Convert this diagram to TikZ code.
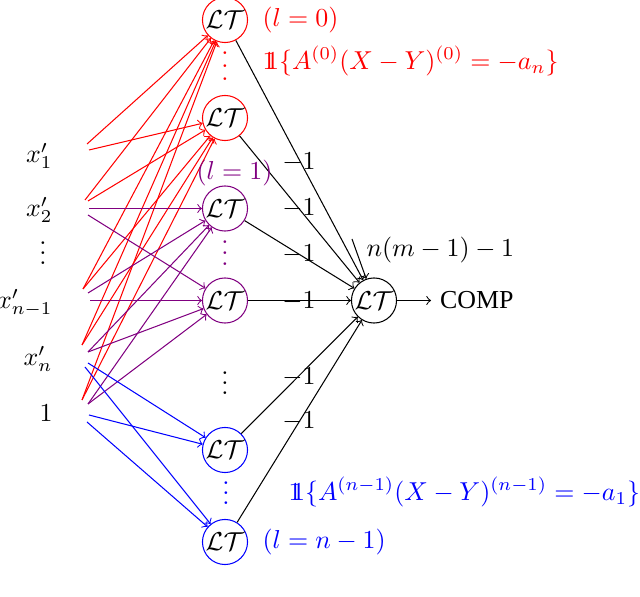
\documentclass[tikz,border=0pt]{standalone}
\usepackage{amsmath}
\usepackage{fontspec}
\newfontfamily\timesfont{Liberation Serif}
\definecolor{lpurple}{RGB}{128,0,128}
\newcommand{\indic}{\mathrm{1}\mkern-6.5mu\mathrm{1}}
\newcommand{\colddots}[1]{\vbox{\baselineskip#1\lineskiplimit0pt\hbox{.}\hbox{.}\hbox{.}}}
\begin{document}
\begin{tikzpicture}[x=0.386pt,y=-0.386pt,
  lt/.style={circle,draw,minimum size=17.4pt,inner sep=0pt},
  inp/.style={anchor=east,inner sep=0pt},
  lab/.style={anchor=west,inner sep=0pt},
  wlab/.style={inner sep=0pt},
  dotsn/.style={inner sep=0pt},
  conn/.style={->}]
\useasboundingbox (0,0) rectangle (640,597);

% input labels
\node[inp] (x1) at (53,156) {$x'_1$};
\node[inp] (x2) at (53,210) {$x'_2$};
\node[dotsn] (xd) at (43,253) {\colddots{3.9pt}};
\node[inp] (xn1) at (53,303) {$x'_{n-1}$};
\node[inp] (xn) at (53,359) {$x'_n$};
\node[inp] (one) at (53,413) {$1$};

% LT nodes
\node[lt,draw=red] (R1) at (225,20) {$\mathcal{LT}$};
\node[lt,draw=red] (R2) at (225,118) {$\mathcal{LT}$};
\node[lt,draw=lpurple] (P1) at (225,208.5) {$\mathcal{LT}$};
\node[lt,draw=lpurple] (P2) at (225,300.5) {$\mathcal{LT}$};
\node[lt,draw=blue] (B1) at (225,450) {$\mathcal{LT}$};
\node[lt,draw=blue] (B2) at (225,542) {$\mathcal{LT}$};
\node[lt] (O) at (374,300.5) {$\mathcal{LT}$};
\node[anchor=west] (C) at (431,300.5) {\timesfont COMP};

% vertical dots
\node[dotsn,text=red] (rd) at (225,66) {\colddots{5pt}};
\node[dotsn,text=lpurple] (pd) at (225,253) {\colddots{4.2pt}};
\node[dotsn] (kd) at (225,383) {\colddots{3.9pt}};
\node[dotsn,text=blue] (bd) at (226,493) {\colddots{3.9pt}};

% start points of the input connectors
\coordinate (s1r1) at (87,144);
\coordinate (s1r2) at (89,150);
\coordinate (s2r1) at (85,200);
\coordinate (s2r2) at (88,201);
\coordinate (s2p1) at (89,208.5);
\coordinate (s2p2) at (88,215);
\coordinate (s3r) at (83,289);
\coordinate (s3p1) at (88,293);
\coordinate (s3p2) at (90,300.5);
\coordinate (s4r) at (82,345);
\coordinate (s4p) at (88,352);
\coordinate (s4b1) at (88,363);
\coordinate (s4b2) at (85,367);
\coordinate (s5r) at (82,400);
\coordinate (s5p) at (88,404);
\coordinate (s5b1) at (89,415);
\coordinate (s5b2) at (87,422);

% red connectors
\begin{scope}[red]
\draw[conn] (s1r1) -- (R1);
\draw[conn] (s1r2) -- (R2);
\draw[conn] (s2r1) -- (R1);
\draw[conn] (s2r2) -- (R2);
\draw[conn] (s3r) -- (R1);
\draw[conn] (s3r) -- (R2);
\draw[conn] (s4r) -- (R1);
\draw[conn] (s4r) -- (R2);
\draw[conn] (s5r) -- (R1);
\draw[conn] (s5r) -- (R2);
\end{scope}

% purple connectors
\begin{scope}[lpurple]
\draw[conn] (s2p1) -- (P1);
\draw[conn] (s2p2) -- (P2);
\draw[conn] (s3p1) -- (P1);
\draw[conn] (s3p2) -- (P2);
\draw[conn] (s4p) -- (P1);
\draw[conn] (s4p) -- (P2);
\draw[conn] (s5p) -- (P1);
\draw[conn] (s5p) -- (P2);
\end{scope}

% blue connectors
\begin{scope}[blue]
\draw[conn] (s4b1) -- (B1);
\draw[conn] (s4b2) -- (B2);
\draw[conn] (s5b1) -- (B1);
\draw[conn] (s5b2) -- (B2);
\end{scope}

% black connectors to output
\draw[conn] (R1) -- (O);
\draw[conn] (R2) -- (O);
\draw[conn] (P1) -- (O);
\draw[conn] (P2) -- (O);
\draw[conn] (B1) -- (O);
\draw[conn] (B2) -- (O);
\draw[conn] (O) -- (C);
\coordinate (bias) at (352,239);
\draw[conn] (bias) -- (O);

% weights
\node[wlab] (w1) at (299,162) {$-1$};
\node[wlab] (w2) at (299,208) {$-1$};
\node[wlab] (w3) at (299,254) {$-1$};
\node[wlab] (w4) at (299,301) {$-1$};
\node[wlab] (w5) at (299,377) {$-1$};
\node[wlab] (w6) at (299,421) {$-1$};
\node[lab] (bl) at (366,250) {$n(m-1)-1$};

% layer labels
\node[lab,text=red] (l0) at (262,20) {$(l=0)$};
\node[lab,text=red] (i0) at (262,61) {$\indic\{A^{(0)}(X-Y)^{(0)}=-a_n\}$};
\node[lab,text=lpurple] (l1) at (196,173) {$(l=1)$};
\node[lab,text=blue] (in) at (288,492) {$\indic\{A^{(n-1)}(X-Y)^{(n-1)}=-a_1\}$};
\node[lab,text=blue] (ln) at (262,542) {$(l=n-1)$};
\end{tikzpicture}
\end{document}
